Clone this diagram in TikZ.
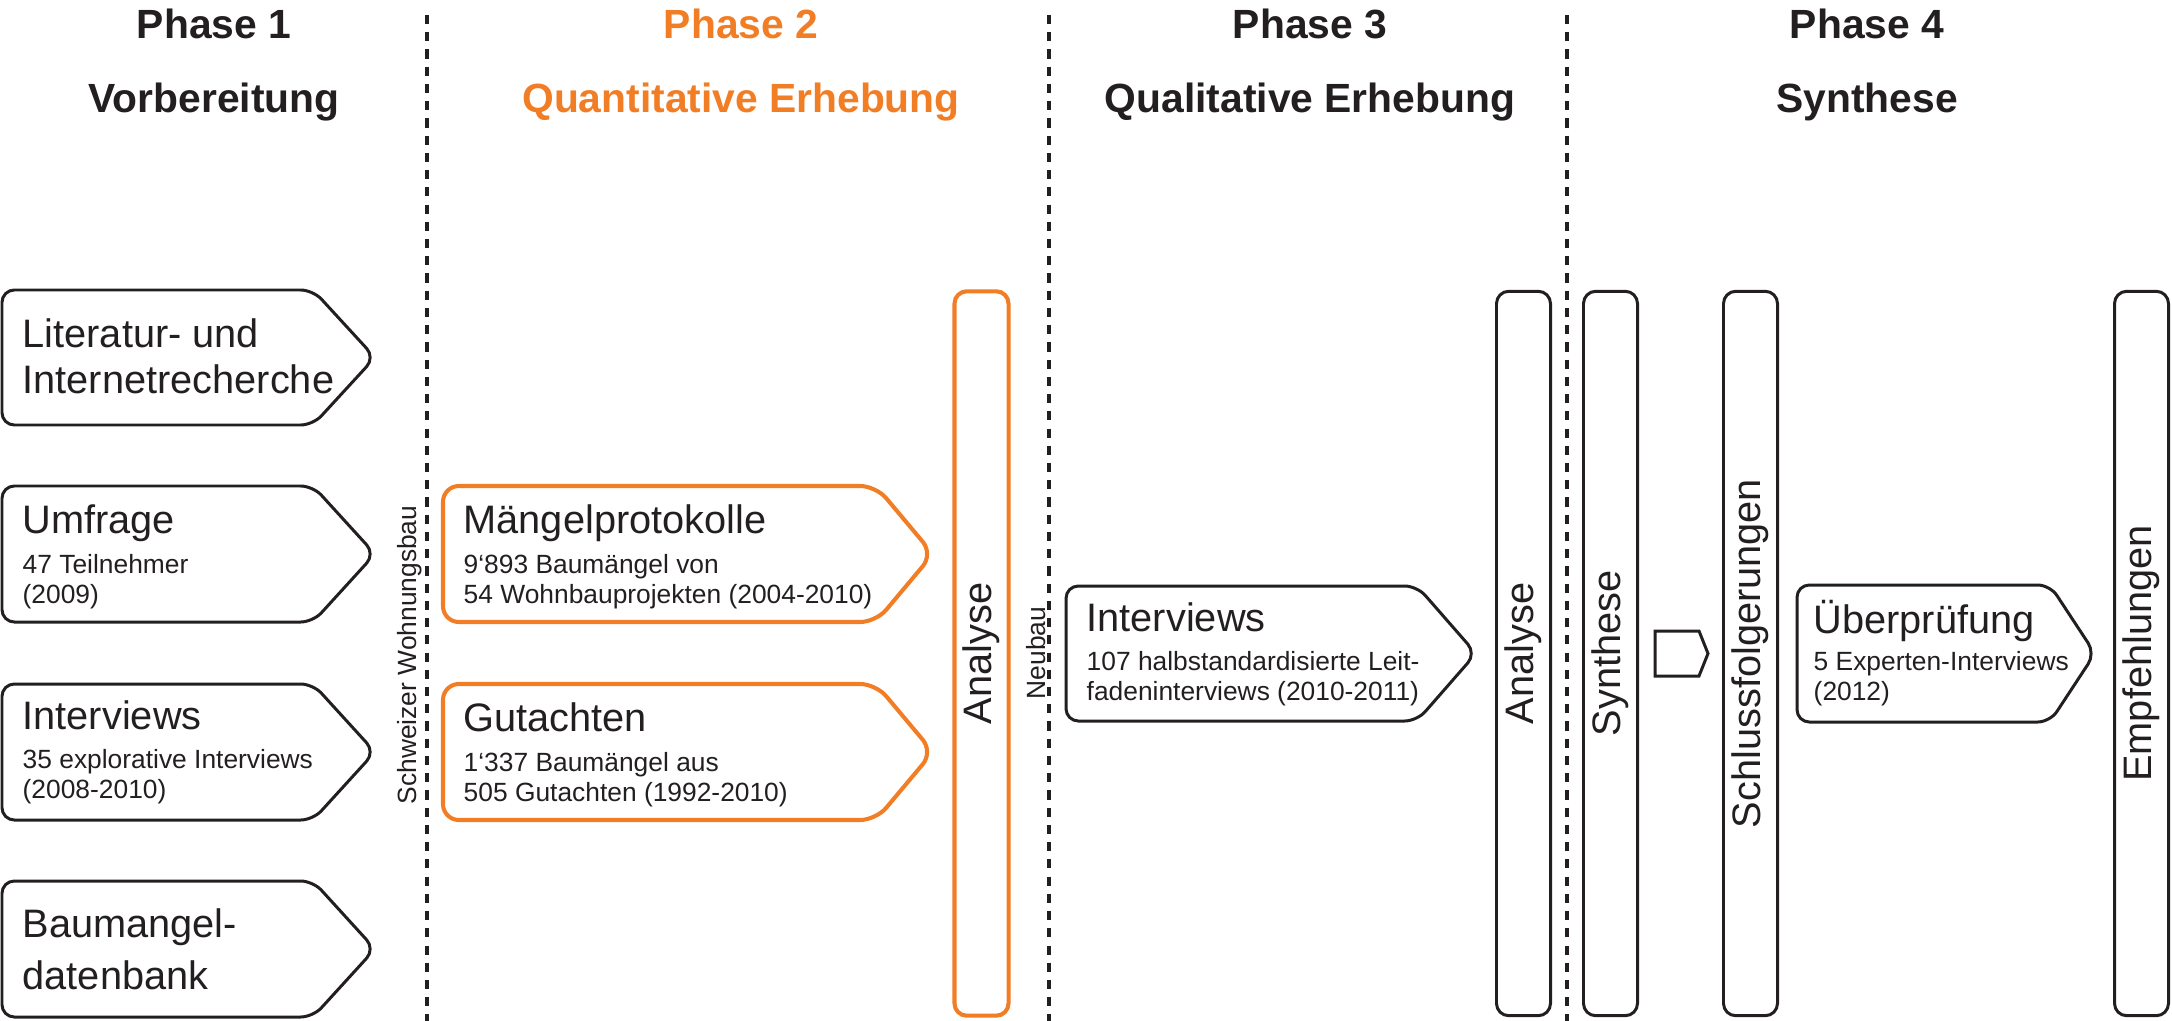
\documentclass[tikz,border=0pt]{standalone}
\usepackage{fontspec}
\setmainfont{Liberation Sans}
\usetikzlibrary{positioning}

\definecolor{ink}{RGB}{35,31,32}
\definecolor{orng}{RGB}{241,125,37}

\begin{document}
\begin{tikzpicture}[x=0.01cm, y=-0.01cm,
    box/.style={draw=ink, line width=0.85pt, rounded corners=3.5pt},
    obox/.style={draw=orng, line width=1.15pt, rounded corners=4.5pt},
    bar/.style={draw=ink, line width=0.85pt, rounded corners=3.5pt, rotate=90,
                minimum width=7.24cm, minimum height=0.54cm, inner sep=0pt,
                text=ink, font=\fontsize{11.3}{13}\selectfont},
    obar/.style={bar, draw=orng, line width=1.15pt},
    divider/.style={draw=ink, line width=0.9pt, dash pattern=on 2.6pt off 2.3pt},
    head/.style={anchor=base, text=ink, font=\bfseries\fontsize{11.6}{14}\selectfont},
    title/.style={anchor=base west, inner sep=0pt, text=ink, align=left,
                  font=\fontsize{11.3}{12.8}\selectfont},
    sub/.style={anchor=base west, inner sep=0pt, text=ink, align=left,
                font=\fontsize{7.5}{8.5}\selectfont},
    side/.style={rotate=90, inner sep=0pt, text=ink, font=\fontsize{7.5}{9}\selectfont}]

    \useasboundingbox (0,0) rectangle (2172,1021);

    % phase borders
    \draw[divider] (427,15) -- (427,1021);
    \draw[divider] (1049,15) -- (1049,1021);
    \draw[divider] (1567,15) -- (1567,1021);

    % headers
    \node[head] (ph1) at (214,38) {Phase 1};
    \node[head] (ph1t) at (214,112) {Vorbereitung};
    \node[head, text=orng] (ph2) at (741,38) {Phase 2};
    \node[head, text=orng] (ph2t) at (741,112) {Quantitative Erhebung};
    \node[head] (ph3) at (1310,38) {Phase 3};
    \node[head] (ph3t) at (1310,112) {Qualitative Erhebung};
    \node[head] (ph4) at (1867,38) {Phase 4};
    \node[head] (ph4t) at (1867,112) {Synthese};

    % phase 1 (multi-line nodes sit on their last baseline)
    \draw[box] (2,290) -- (313,290) -- (375,357.5) -- (313,425) -- (2,425) -- cycle;
    \node[title] (lit) at (22,393) {Literatur- und\\Internetrecherche};

    \draw[box] (2,486) -- (313,486) -- (375,554) -- (313,622) -- (2,622) -- cycle;
    \node[title] (umf) at (22,533) {Umfrage};
    \node[sub] (umfsub) at (22,603) {47 Teilnehmer\\(2009)};

    \draw[box] (2,684) -- (313,684) -- (375,752) -- (313,820) -- (2,820) -- cycle;
    \node[title] (int1) at (22,729) {Interviews};
    \node[sub] (int1sub) at (22,798) {35 explorative Interviews\\(2008-2010)};

    \draw[box] (2,881) -- (313,881) -- (375,949) -- (313,1017) -- (2,1017) -- cycle;
    \node[title, font=\fontsize{11.3}{14.6}\selectfont] (bmd) at (22,989) {Baumangel-\\datenbank};

    \node[side] (ch) at (410,655) {Schweizer Wohnungsbau};

    % phase 2
    \draw[obox] (443,486) -- (876,486) -- (933,554) -- (876,622) -- (443,622) -- cycle;
    \node[title] (mp) at (463,533) {Mängelprotokolle};
    \node[sub] (mpsub) at (463,603) {9‘893 Baumängel von\\54 Wohnbauprojekten (2004-2010)};

    \draw[obox] (443,684) -- (876,684) -- (933,752) -- (876,820) -- (443,820) -- cycle;
    \node[title] (gut) at (463,731) {Gutachten};
    \node[sub] (gutsub) at (463,801) {1‘337 Baumängel aus\\505 Gutachten (1992-2010)};

    \node[obar] (ana1) at (981.5,653.5) {Analyse};
    \node[side] (neu) at (1036,653) {Neubau};

    % phase 3
    \draw[box] (1066,586) -- (1417,586) -- (1476,653.5) -- (1417,721) -- (1066,721) -- cycle;
    \node[title] (int2) at (1086,631) {Interviews};
    \node[sub] (int2sub) at (1086,700) {107 halbstandardisierte Leit-\\fadeninterviews (2010-2011)};

    \node[bar] (ana2) at (1523.5,653.5) {Analyse};

    % phase 4
    \node[bar] (syn) at (1610.5,653.5) {Synthese};
    \draw[ink, line width=0.85pt] (1655,631) -- (1699,631) -- (1708,653.5) -- (1699,676) -- (1655,676) -- cycle;
    \node[bar] (sf) at (1750.5,653.5) {Schlussfolgerungen};

    \draw[box] (1797,585) -- (2050,585) -- (2095,653.5) -- (2050,722) -- (1797,722) -- cycle;
    \node[title] (upr) at (1813,633) {Überprüfung};
    \node[sub] (uprsub) at (1813,700) {5 Experten-Interviews\\(2012)};

    \node[bar] (emp) at (2141.5,653.5) {Empfehlungen};

\end{tikzpicture}
\end{document}
